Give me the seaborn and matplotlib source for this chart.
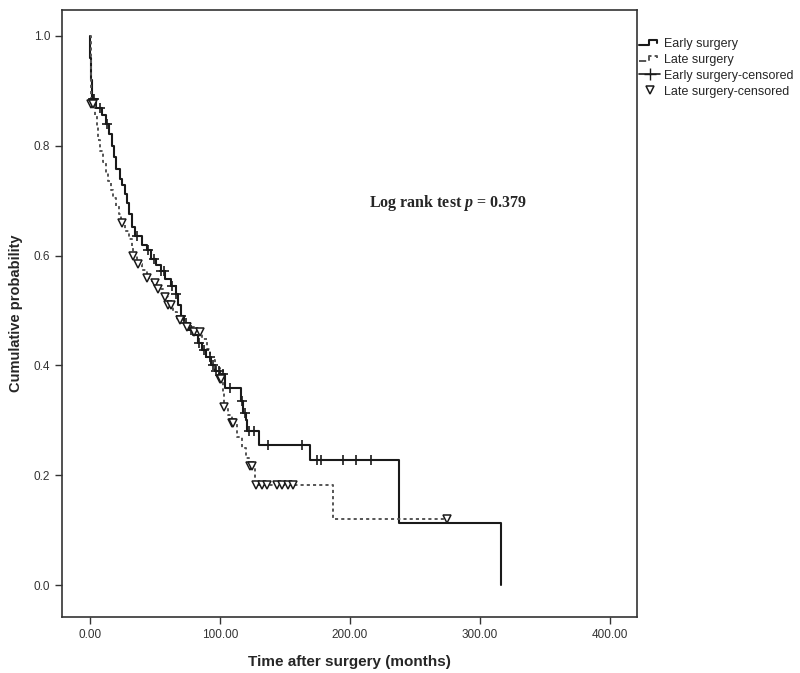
import numpy as np
import pandas as pd
import matplotlib
matplotlib.use("Agg")
import matplotlib.pyplot as plt
from matplotlib.lines import Line2D
from matplotlib.legend_handler import HandlerBase
import seaborn as sns

# ---- data ----
early_times = [0, 0.3, 0.8, 1.5, 5, 9, 12, 15, 17, 18.5, 20, 23, 25, 27, 28.5, 30, 32, 35, 40, 44,
               47, 51, 55, 58, 62, 66, 68, 70, 72, 76, 79, 83, 86, 89, 93, 96, 100, 104, 116,
               118, 120, 121, 130, 169, 238, 316]
early_surv = [1.0, 0.96, 0.92, 0.885, 0.868, 0.856, 0.84, 0.822, 0.80, 0.78, 0.757, 0.74, 0.728,
              0.712, 0.695, 0.675, 0.652, 0.635, 0.62, 0.61, 0.594, 0.582, 0.572, 0.558, 0.545,
              0.53, 0.51, 0.49, 0.477, 0.465, 0.455, 0.44, 0.428, 0.415, 0.40, 0.39, 0.385,
              0.358, 0.335, 0.313, 0.30, 0.28, 0.255, 0.228, 0.113, 0.0]
early_censored = [2, 3, 8, 13, 36, 45, 49, 55, 57, 63, 66, 70, 74, 78, 84, 88, 92, 95, 97, 99,
                  102, 108, 117, 119, 122, 126, 137, 163, 175, 178, 195, 205, 216]

late_times = [0, 0.5, 1, 4, 5.5, 6.5, 8, 10, 12, 14, 16, 18, 20, 22, 24, 27, 30, 32, 33, 36, 40,
              44, 48, 52, 56, 60, 64, 67, 72, 80, 86, 90, 92, 96, 100, 102, 103, 106, 109, 113,
              117, 120, 122, 127, 187, 275]
late_surv = [1.0, 0.93, 0.875, 0.855, 0.835, 0.81, 0.79, 0.77, 0.75, 0.735, 0.72, 0.705, 0.69,
             0.675, 0.66, 0.645, 0.63, 0.615, 0.60, 0.585, 0.573, 0.56, 0.55, 0.54, 0.525, 0.51,
             0.497, 0.483, 0.47, 0.46, 0.448, 0.43, 0.41, 0.395, 0.375, 0.35, 0.325, 0.31,
             0.295, 0.27, 0.25, 0.232, 0.217, 0.182, 0.12, 0.12]
late_censored = [1, 2, 25, 33, 37, 44, 50, 52, 58, 60, 62, 69, 75, 80, 85, 100, 101, 103, 109,
                 110, 123, 125, 128, 132, 136, 144, 148, 152, 156, 275]

x_ticks = [0, 100, 200, 300, 400]
y_ticks = [0.0, 0.2, 0.4, 0.6, 0.8, 1.0]
group_names = ["Early surgery", "Late surgery", "Early surgery-censored", "Late surgery-censored"]
x_label = "Time after surgery (months)"
y_label = "Cumulative probability"
annotation = "Log rank test $p$ = 0.379"


def step_value(times, surv, t):
    idx = np.searchsorted(np.asarray(times), t, side="right") - 1
    return np.asarray(surv)[idx]


class StepHandler(HandlerBase):
    """Legend handle drawn as a small survival step."""
    def create_artists(self, legend, orig_handle, xdescent, ydescent, width, height,
                       fontsize, trans):
        xs = np.array([0.0, 0.45, 0.45, 0.85, 0.85]) * width - xdescent
        ys = np.array([0.25, 0.25, 0.85, 0.85, 0.55]) * height - ydescent
        ln = Line2D(xs, ys, color=orig_handle.get_color(),
                    linewidth=orig_handle.get_linewidth(),
                    linestyle=orig_handle.get_linestyle())
        ln.set_transform(trans)
        return [ln]


sns.set_style("white")
plt.rcParams["font.family"] = ["Liberation Sans", "DejaVu Sans"]
plt.rcParams["mathtext.fontset"] = "custom"
plt.rcParams["mathtext.it"] = "Liberation Serif:italic:bold"
plt.rcParams["mathtext.rm"] = "Liberation Serif:bold"

fig = plt.figure(figsize=(8.0, 6.73), dpi=100)
ax = fig.add_axes([62 / 800, 1 - 617 / 673, (637 - 62) / 800, (617 - 10) / 673])

early_df = pd.DataFrame({"t": early_times, "s": early_surv})
late_df = pd.DataFrame({"t": late_times, "s": late_surv})

sns.lineplot(data=early_df, x="t", y="s", ax=ax, estimator=None, sort=False,
             drawstyle="steps-post", color="#1a1a1a", linewidth=1.5)
sns.lineplot(data=late_df, x="t", y="s", ax=ax, estimator=None, sort=False,
             drawstyle="steps-post", color="#555555", linewidth=1.4,
             linestyle=(0, (1.6, 1.6)))

ec = pd.DataFrame({"t": early_censored,
                   "s": step_value(early_times, early_surv, np.array(early_censored))})
lc = pd.DataFrame({"t": late_censored,
                   "s": step_value(late_times, late_surv, np.array(late_censored))})
sns.scatterplot(data=ec, x="t", y="s", ax=ax, marker="+", s=45, color="#1a1a1a",
                linewidth=1.2, zorder=5)
ax.plot(lc["t"], lc["s"], linestyle="none", marker="v", markersize=5.5,
        markerfacecolor="white", markeredgecolor="#1a1a1a", markeredgewidth=1.1, zorder=5)

ax.set_xlim(-21.5, 420.8)
ax.set_ylim(-0.058, 1.047)
ax.set_xticks(x_ticks)
ax.set_xticklabels([f"{v:.2f}" for v in x_ticks])
ax.set_yticks(y_ticks)
ax.set_yticklabels([f"{v:.1f}" for v in y_ticks])
ax.tick_params(axis="both", direction="out", length=5, width=1, colors="#333333",
               labelsize=8.5, left=True, bottom=True)
for sp in ax.spines.values():
    sp.set_color("#333333")
    sp.set_linewidth(1.2)

ax.set_xlabel(x_label, fontsize=11, fontweight="bold", labelpad=10)
ax.set_ylabel(y_label, fontsize=10.5, fontweight="bold", labelpad=8)

ax.text(215, 0.696, annotation, fontsize=11.5, fontweight="bold",
        family=["Liberation Serif"], va="center", ha="left")

h_early = Line2D([], [], color="#1a1a1a", linewidth=1.5)
h_late = Line2D([], [], color="#555555", linewidth=1.4, linestyle=(0, (1.6, 1.6)))
handles = [
    h_early,
    h_late,
    Line2D([], [], color="#1a1a1a", linewidth=1.2, marker="+", markersize=9),
    Line2D([], [], color="#1a1a1a", linestyle="none", marker="v", markersize=5.5,
           markerfacecolor="white", markeredgewidth=1.1),
]
fig.legend(handles, group_names, loc="upper left", bbox_to_anchor=(0.799, 0.943),
           frameon=False, fontsize=9, handlelength=1.7, handletextpad=0.3,
           labelspacing=0.3, borderaxespad=0, borderpad=0,
           handler_map={h_early: StepHandler(), h_late: StepHandler()})

fig.savefig("out.png", dpi=100)
